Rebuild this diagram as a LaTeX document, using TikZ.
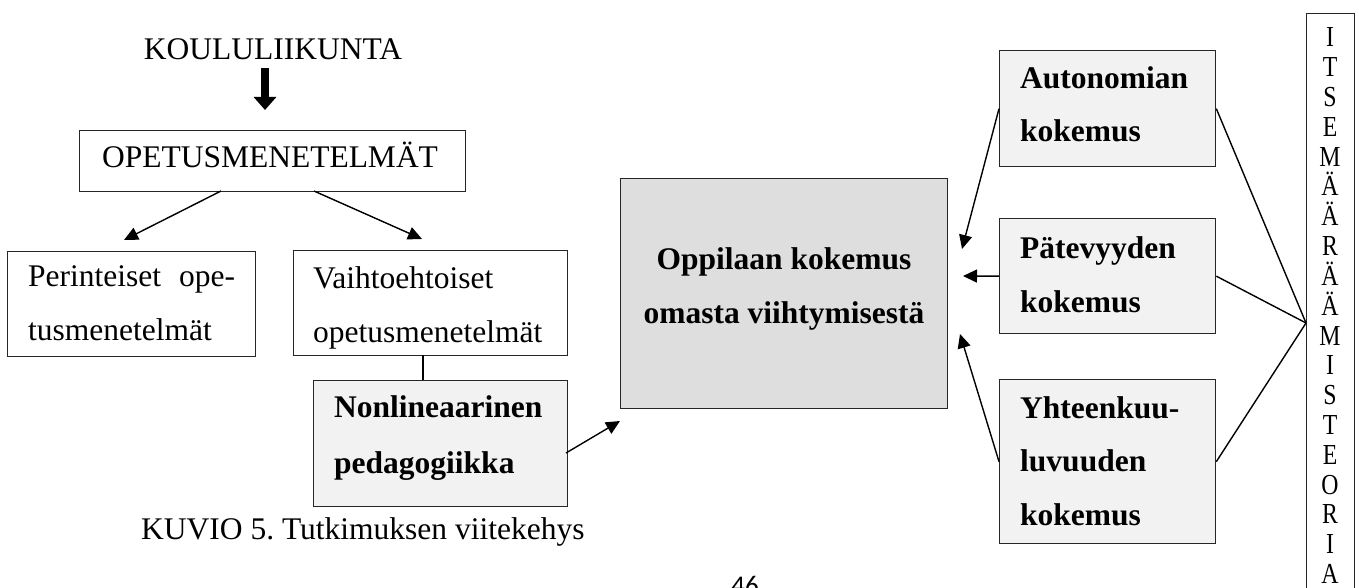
\documentclass[tikz,border=0pt]{standalone}
\usepackage{fontspec}
\setmainfont{Liberation Serif}
\newfontfamily\pagefont{Carlito}
\usetikzlibrary{arrows.meta,calc}
\definecolor{lightfill}{HTML}{F2F2F2}
\definecolor{midfill}{HTML}{DEDEDE}
\definecolor{edge}{HTML}{262626}
\frenchspacing
\begin{document}
\begin{tikzpicture}[x=1pt,y=-1pt,
  box/.style={draw=edge, line width=1.3pt, inner sep=0pt, anchor=north west},
  txt/.style={font=\fontsize{31.5}{38}\selectfont, inner sep=0pt, anchor=base west},
  btxt/.style={txt, font=\fontsize{31.5}{38}\selectfont\bfseries},
  conn/.style={line width=1.4pt, -{Triangle[length=14pt,width=13pt]}},
  plain/.style={line width=1.4pt},
  letter/.style={font=\fontsize{29}{30}\selectfont, inner sep=0pt, anchor=base}]
\useasboundingbox (0,0) rectangle (1359,588);
\clip (0,0) rectangle (1359,588);

% boxes
\node[box, minimum width=386pt, minimum height=61pt] (opet) at (79,130) {};
\node[box, minimum width=248pt, minimum height=105pt] (per) at (7,251) {};
\node[box, minimum width=274pt, minimum height=105pt] (vai) at (293,250) {};
\node[box, fill=lightfill, minimum width=254pt, minimum height=126pt] (non) at (313,380) {};
\node[box, fill=midfill, minimum width=327pt, minimum height=230pt] (opp) at (620,178) {};
\node[box, fill=lightfill, minimum width=216pt, minimum height=116pt] (aut) at (999,50) {};
\node[box, fill=lightfill, minimum width=216pt, minimum height=115pt] (pat) at (999,218) {};
\node[box, fill=lightfill, minimum width=216pt, minimum height=164pt] (yht) at (999,379) {};
\node[box, minimum width=48pt, minimum height=600pt] (itse) at (1306,13) {};

% texts
\node[txt, anchor=base] (kou) at (273,60) {KOULULIIKUNTA};
\node[txt, anchor=base] (opett) at (270,168) {OPETUSMENETELMÄT};
\node[txt] (per1) at (28,286) {\makebox[207pt][s]{Perinteiset ope-}};
\node[txt] (per2) at (28,340) {tusmenetelmät};
\node[txt] (vai1) at (313,288) {Vaihtoehtoiset};
\node[txt] (vai2) at (313,342) {opetusmenetelmät};
\node[btxt] (non1) at (334,417) {Nonlineaarinen};
\node[btxt] (non2) at (334,473) {pedagogiikka};
\node[btxt, anchor=base] (opp1) at (784,269) {Oppilaan kokemus};
\node[btxt, anchor=base] (opp2) at (784,323) {omasta viihtymisestä};
\node[btxt] (aut1) at (1020,89) {Autonomian};
\node[btxt] (aut2) at (1020,142) {kokemus};
\node[btxt] (pat1) at (1020,258) {Pätevyyden};
\node[btxt] (pat2) at (1020,312) {kokemus};
\node[btxt] (yht1) at (1020,418) {Yhteenkuu-};
\node[btxt] (yht2) at (1020,471) {luvuuden};
\node[btxt] (yht3) at (1020,525) {kokemus};
\node[txt] (cap) at (141,539) {KUVIO 5. Tutkimuksen viitekehys};
\node[inner sep=0pt, anchor=base, font=\pagefont\fontsize{27}{30}\selectfont] (page) at (745,594) {46};

\foreach \ch [count=\i from 0] in {I,T,S,E,M,Ä,Ä,R,Ä,Ä,M,I,S,T,E,O,R,I,A}{
  \node[letter] (l\i) at (1330,{47+29.8*\i}) {\scalebox{0.82}[1]{\ch}};
}

% coordinates for free ends
\coordinate (ka) at (265,68);
\coordinate (kb) at (265,110);
\coordinate (o1) at (221,191);
\coordinate (t1) at (124,240);
\coordinate (o2) at (314,191);
\coordinate (t2) at (422,239);
\coordinate (v1) at (423,355);
\coordinate (n1) at (423,380);
\coordinate (ns) at (566,453);
\coordinate (nt) at (620,421);
\coordinate (ta) at (962,249);
\coordinate (tp) at (963,276);
\coordinate (ty) at (960,334);
\coordinate (conv) at (1306,323);

% connectors
\draw[line width=8pt, -{Triangle[length=13pt,width=22pt]}] (ka) -- (kb);
\draw[conn] (o1) -- (t1);
\draw[conn] (o2) -- (t2);
\draw[plain] (v1) -- (n1);
\draw[conn] (ns) -- (nt);
\draw[conn] (aut.west) -- (ta);
\draw[conn] (pat.west) -- (tp);
\draw[conn] (yht.west) -- (ty);
\draw[plain] (aut.east) -- (conv);
\draw[plain] (pat.east) -- (conv);
\draw[plain] (yht.east) -- (conv);
\end{tikzpicture}
\end{document}
